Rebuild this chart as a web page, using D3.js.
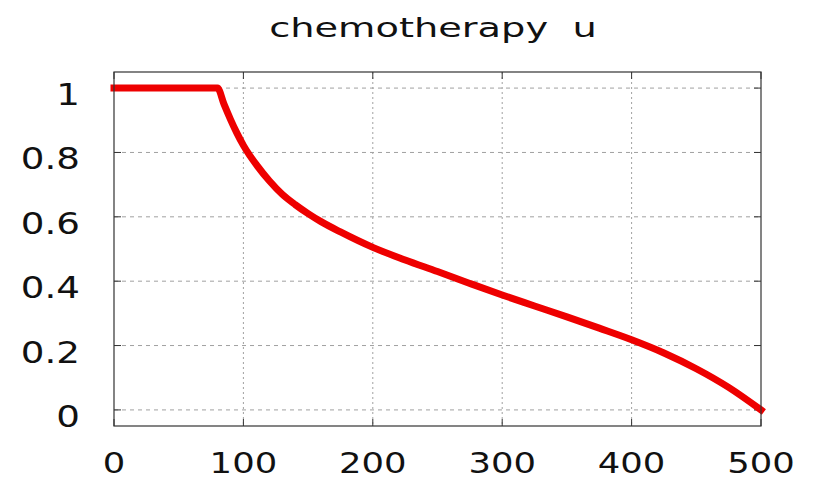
<!DOCTYPE html>
<html>
<head>
<meta charset="utf-8">
<script src="https://cdn.jsdelivr.net/npm/d3@7"></script>
<style>
  body { margin: 0; background: #fff; }
  text { font-family: "DejaVu Sans", sans-serif; fill: #111; white-space: pre; }
</style>
</head>
<body>
<svg id="chart" width="819" height="480"></svg>
<script>
// values
const titleText = 'chemotherapy  u';
const times = [0, 80, 85, 90, 95, 100, 105, 110, 120, 130, 140, 150, 160, 175, 200, 225, 250, 275, 300, 325, 350, 375, 400, 425, 450, 475, 500];
const uValues = [1, 1, 0.95, 0.903, 0.86, 0.822, 0.79, 0.762, 0.712, 0.67, 0.638, 0.61, 0.585, 0.553, 0.505, 0.466, 0.43, 0.393, 0.357, 0.323, 0.289, 0.254, 0.218, 0.177, 0.128, 0.07, 0];
const xTicks = [0, 100, 200, 300, 400, 500];
const yTicks = [0, 0.2, 0.4, 0.6, 0.8, 1];

const svg = d3.select('#chart');
let plotLeft = 114, plotRight = 761, plotTop = 72, plotBottom = 426;

let x = d3.scaleLinear().domain([0, 500]).range([plotLeft, plotRight]);
let y = d3.scaleLinear().domain([-0.05, 1.05]).range([plotBottom, plotTop]);

// stretch text horizontally like the reference
function stretch(sel, k) {
  sel.each(function() {
    let w = this.getComputedTextLength();
    d3.select(this).attr('textLength', w * k).attr('lengthAdjust', 'spacingAndGlyphs');
  });
}

// grid
svg.append('g').selectAll('line').data(yTicks).join('line')
  .attr('x1', plotLeft).attr('x2', plotRight)
  .attr('y1', d => y(d)).attr('y2', d => y(d))
  .attr('stroke', '#a0a0a0').attr('stroke-width', 1).attr('stroke-dasharray', '4,4');
svg.append('g').selectAll('line').data(xTicks.slice(1, -1)).join('line')
  .attr('x1', d => x(d)).attr('x2', d => x(d))
  .attr('y1', plotTop).attr('y2', plotBottom)
  .attr('stroke', '#a0a0a0').attr('stroke-width', 1).attr('stroke-dasharray', '2,3');

// mirrored inward ticks
let tickLen = 7;
let ticks = svg.append('g').attr('stroke', '#333').attr('stroke-width', 1);
ticks.selectAll('.yl').data(yTicks).join('line').attr('class', 'yl')
  .attr('x1', plotLeft).attr('x2', plotLeft + tickLen).attr('y1', d => y(d)).attr('y2', d => y(d));
ticks.selectAll('.yr').data(yTicks).join('line').attr('class', 'yr')
  .attr('x1', plotRight).attr('x2', plotRight - tickLen).attr('y1', d => y(d)).attr('y2', d => y(d));
ticks.selectAll('.xb').data(xTicks).join('line').attr('class', 'xb')
  .attr('x1', d => x(d)).attr('x2', d => x(d)).attr('y1', plotBottom).attr('y2', plotBottom - tickLen);
ticks.selectAll('.xt').data(xTicks).join('line').attr('class', 'xt')
  .attr('x1', d => x(d)).attr('x2', d => x(d)).attr('y1', plotTop).attr('y2', plotTop + tickLen);

// curve
let line = d3.line().x((d, i) => x(times[i])).y(d => y(d)).curve(d3.curveMonotoneX);
svg.append('path').datum(uValues)
  .attr('d', line)
  .attr('fill', 'none')
  .attr('stroke', '#ee0000')
  .attr('stroke-width', 7)
  .attr('stroke-linecap', 'square')
  .attr('stroke-linejoin', 'round');

// frame
svg.append('rect')
  .attr('x', plotLeft).attr('y', plotTop)
  .attr('width', plotRight - plotLeft).attr('height', plotBottom - plotTop)
  .attr('fill', 'none').attr('stroke', '#333').attr('stroke-width', 1.2);

// tick labels
svg.append('g').selectAll('text').data(yTicks).join('text')
  .attr('x', 80).attr('y', d => y(d) + 17)
  .attr('text-anchor', 'end')
  .attr('font-size', 30)
  .text(d => d3.format('~g')(d))
  .call(stretch, 1.24);

svg.append('g').selectAll('text').data(xTicks).join('text')
  .attr('x', d => x(d)).attr('y', 473)
  .attr('text-anchor', 'middle')
  .attr('font-size', 29)
  .text(d => d)
  .call(stretch, 1.22);

// title
svg.append('text')
  .attr('x', 433).attr('y', 37)
  .attr('text-anchor', 'middle')
  .attr('font-size', 27)
  .text(titleText)
  .call(stretch, 1.42);
</script>
</body>
</html>
